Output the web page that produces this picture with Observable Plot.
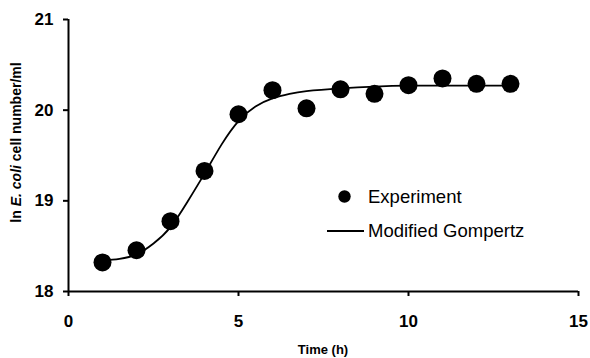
<!DOCTYPE html>
<html>
<head>
<meta charset="utf-8">
<script src="https://cdn.jsdelivr.net/npm/d3@7"></script>
<script src="https://cdn.jsdelivr.net/npm/@observablehq/plot@0.6"></script>
<style>
  html, body { margin: 0; padding: 0; background: #fff; }
  #chart svg { display: block; }
</style>
</head>
<body>
<div id="chart"></div>
<script>
// Experimental data
const times = [1, 2, 3, 4, 5, 6, 7, 8, 9, 10, 11, 12, 13];
const counts = [18.32, 18.455, 18.775, 19.33, 19.955, 20.22, 20.02, 20.23, 20.18, 20.275, 20.35, 20.29, 20.29];

// Modified Gompertz fitted curve
const fitTimes = [1, 1.5, 2, 2.5, 3, 3.5, 4, 4.5, 5, 5.5, 6, 6.5, 7, 8, 9, 10, 11, 12, 13];
const fitValues = [18.34, 18.36, 18.41, 18.53, 18.71, 18.99, 19.30, 19.62, 19.88, 20.04, 20.13, 20.18, 20.21, 20.24, 20.26, 20.27, 20.27, 20.27, 20.27];

const xTicks = [0, 5, 10, 15];
const yTicks = [18, 19, 20, 21];

const legendLabels = ["Experiment", "Modified Gompertz"];
const xTitle = "Time (h)";

const experiment = times.map((t, i) => ({t, v: counts[i]}));
const fit = fitTimes.map((t, i) => ({t, v: fitValues[i]}));

const W = 590, H = 358;
const font = "'Liberation Sans', Arial, sans-serif";

const chart = Plot.plot({
  width: W,
  height: H,
  marginLeft: 68,
  marginRight: 12,
  marginTop: 19,
  marginBottom: 67,
  style: {background: "#fff", fontFamily: font, color: "#000"},
  x: {domain: [0, 15]},
  y: {domain: [18, 21]},
  marks: [
    Plot.axisX({ticks: xTicks, tickSize: 5, tickPadding: 18, strokeWidth: 2, label: null, fontSize: 17, fontWeight: "bold", tickFormat: d => String(d)}),
    Plot.axisY({ticks: yTicks, tickSize: 5, tickPadding: 10, strokeWidth: 2, label: null, fontSize: 17, fontWeight: "bold", tickFormat: d => String(d)}),
    Plot.ruleY([18], {x1: 0, x2: 15, stroke: "#000", strokeWidth: 2}),
    Plot.ruleX([0], {y1: 18, y2: 21, stroke: "#000", strokeWidth: 2}),
    Plot.line(fit, {x: "t", y: "v", curve: "natural", stroke: "#000", strokeWidth: 1.8}),
    Plot.dot(experiment, {x: "t", y: "v", r: 9, fill: "#000", stroke: "none"})
  ]
});

document.getElementById("chart").appendChild(chart);

const svg = d3.select(chart);

// X axis title
svg.append("text")
  .attr("x", 323).attr("y", 354)
  .attr("text-anchor", "middle")
  .attr("font-family", font).attr("font-size", 13).attr("font-weight", "bold")
  .attr("fill", "#000")
  .text(xTitle);

// Y axis title with italic species name
const yt = svg.append("text")
  .attr("transform", "translate(21,142.5) rotate(-90)")
  .attr("text-anchor", "middle")
  .attr("font-family", font).attr("font-size", 14).attr("font-weight", "bold")
  .attr("fill", "#000");
yt.append("tspan").text("ln ");
yt.append("tspan").attr("font-style", "italic").text("E. coli");
yt.append("tspan").text(" cell number/ml");

// Legend
const lg = svg.append("g").attr("font-family", font).attr("font-size", 18.5).attr("fill", "#000").attr("text-anchor", "start");
lg.append("circle").attr("cx", 344.5).attr("cy", 196.5).attr("r", 6.2).attr("fill", "#000");
lg.append("text").attr("x", 368).attr("y", 203).attr("text-anchor", "start").text(legendLabels[0]);
lg.append("line").attr("x1", 327).attr("x2", 364).attr("y1", 231).attr("y2", 231).attr("stroke", "#000").attr("stroke-width", 1.8);
lg.append("text").attr("x", 368).attr("y", 237).attr("text-anchor", "start").text(legendLabels[1]);
</script>
</body>
</html>
